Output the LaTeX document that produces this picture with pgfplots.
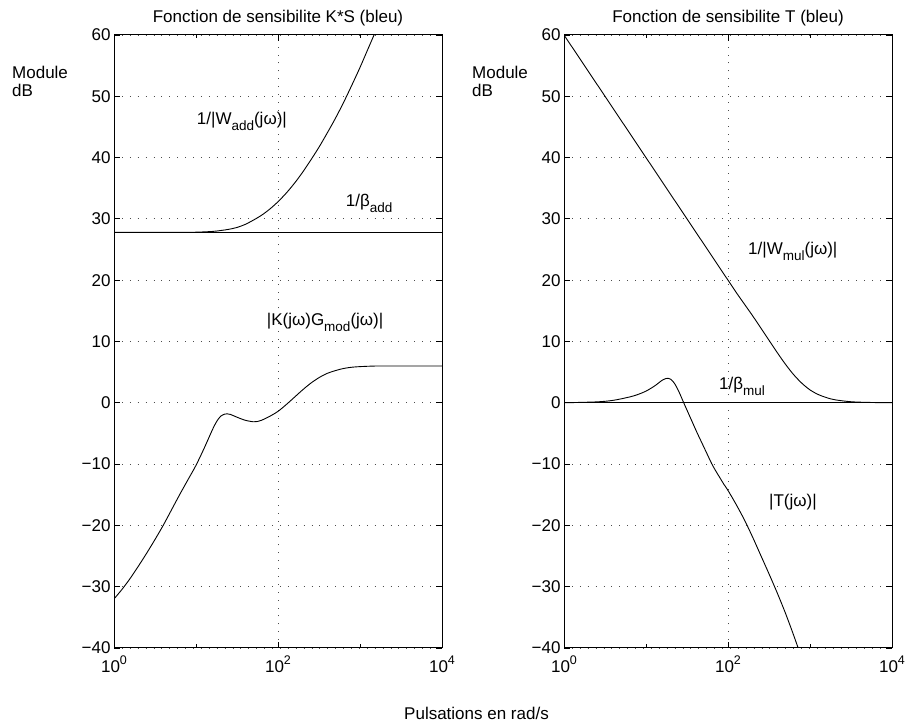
\documentclass[border=0pt]{standalone}
\usepackage{pgfplots}
\pgfplotsset{compat=1.18}
\usepackage{fontspec}
\setmainfont{Liberation Sans}
\newcommand{\fs}{\fontsize{17}{20}\selectfont}
\newcommand{\sub}[1]{\raisebox{-6pt}{\fontsize{13.5}{14}\selectfont #1}}
\newcommand{\sps}[1]{\raisebox{8pt}{\fontsize{12.5}{13}\selectfont #1}}
\pgfplotsset{
  panel/.style={
    scale only axis, width=328pt, height=613pt,
    xmin=1, xmax=10000, ymin=-40, ymax=60,
    xtick={1,100,10000}, xticklabels={10\sps{0},10\sps{2},10\sps{4}},
    minor xtick={10,1000},
    ytick={-40,-30,...,60}, yticklabels={−40,−30,−20,−10,0,10,20,30,40,50,60},
    tick align=inside, tick pos=both, xticklabel pos=lower, yticklabel pos=left,
    major tick length=6pt, minor tick length=3.5pt,
    ymajorgrids, xmajorgrids,
    major grid style={black!70, line width=0.8pt, dash pattern=on 0.9pt off 7pt},
    axis line style={line width=1pt},
    tick style={black, line width=0.8pt},
    tick label style={font=\fs},
    xticklabel style={yshift=-4pt},
    anchor=south west,
  },
  cv/.style={black, line width=0.9pt, mark=none},
}
\begin{document}
\begin{tikzpicture}
\fill[white, use as bounding box] (0,0) rectangle (906pt,727pt);
% ---------------- left panel ----------------
\begin{axis}[xmode=log, panel, at={(114pt,79pt)}]
% 1/beta_add
\addplot[cv] coordinates {(1,27.8) (10000,27.8)};
% 1/|W_add|
\addplot[cv, smooth] coordinates {
(1,27.8) (3.162,27.8) (6.310,27.81) (10,27.83) (15.85,27.95) (19.95,28.1)
(25.12,28.3) (31.62,28.6) (39.81,29.1) (50.12,29.8) (63.10,30.6) (79.43,31.6)
(100,32.8) (125.9,34.2) (158.5,35.8) (199.5,37.6) (251.2,39.6) (316.2,41.7)
(398.1,44.0) (501.2,46.4) (631.0,49.0) (794.3,51.8) (1000,54.7) (1259,57.8)
(1585,60.9) (1995,64.1)};
% |K G_mod|
\addplot[cv, smooth] coordinates {
(1,-32.0) (1.259,-30.4) (1.585,-28.6) (1.995,-26.6) (2.512,-24.5) (3.162,-22.3)
(3.981,-20.0) (5.012,-17.5) (6.310,-15.0) (7.943,-12.6) (10,-10.2) (12.59,-7.4)
(15.85,-4.4) (17.78,-3.1) (19.95,-2.2) (22.39,-1.85) (23.99,-1.8) (26.30,-1.9)
(31.62,-2.35) (39.81,-2.85) (50.12,-3.1) (56.23,-3.05) (63.10,-2.85) (79.43,-2.2)
(100,-1.4) (125.9,-0.3) (158.5,0.9) (199.5,2.1) (251.2,3.2) (316.2,4.1)
(398.1,4.8) (501.2,5.25) (631.0,5.6) (794.3,5.8) (1000,5.9) (1585,6.0)
(3162,6.0) (10000,6.0)};
\node[anchor=base west, font=\fs, inner sep=0pt] at (axis cs:10.2,45.4) {1/|W\sub{add}(jω)|};
\node[anchor=base west, font=\fs, inner sep=0pt] at (axis cs:668,32.1) {1/β\sub{add}};
\node[anchor=base west, font=\fs, inner sep=0pt] at (axis cs:72.8,12.6) {|K(jω)G\sub{mod}(jω)|};
\end{axis}
% ---------------- right panel ----------------
\begin{axis}[xmode=log, panel, at={(564pt,79pt)}]
% 1/beta_mul
\addplot[cv] coordinates {(1,0) (10000,0)};
% 1/|W_mul|
\addplot[cv, smooth] coordinates {
(1,60) (10,40) (100,20.0) (125.9,18.0) (158.5,16.1) (199.5,14.2) (251.2,12.2)
(316.2,10.2) (398.1,8.2) (501.2,6.3) (631.0,4.6) (794.3,3.2) (1000,2.1)
(1259,1.35) (1585,0.85) (1995,0.5) (3162,0.17) (5623,0.05) (10000,0)};
% |T|
\addplot[cv, smooth] coordinates {
(1,0) (2.512,0.15) (3.981,0.4) (6.310,0.95) (7.943,1.35) (10,1.9) (12.59,2.7)
(14.13,3.2) (15.85,3.7) (17.38,3.95) (18.62,4.0) (19.95,3.85) (21.88,3.3)
(23.99,2.4) (26.30,1.25) (28.84,0) (31.62,-1.2) (36.31,-3.0) (41.69,-4.8)
(47.86,-6.5) (54.95,-8.2) (63.10,-9.9) (70.79,-11.1) (79.43,-12.2)
(89.13,-13.3) (100,-14.3) (125.9,-16.6) (158.5,-19.1) (199.5,-21.9)
(251.2,-24.9) (316.2,-27.9) (398.1,-31.0) (501.2,-34.3) (631.0,-37.9)
(794.3,-41.7) (1000,-45.5)};
\node[anchor=base west, font=\fs, inner sep=0pt] at (axis cs:175.4,24.2) {1/|W\sub{mul}(jω)|};
\node[anchor=base west, font=\fs, inner sep=0pt] at (axis cs:77.6,2.2) {1/β\sub{mul}};
\node[anchor=base west, font=\fs, inner sep=0pt] at (axis cs:316,-16.9) {|T(jω)|};
\end{axis}
% ---------------- texts ----------------
\node[anchor=base, font=\fs] at (278pt,704pt) {Fonction de sensibilite K*S (bleu)};
\node[anchor=base, font=\fs] at (728pt,704pt) {Fonction de sensibilite T (bleu)};
\node[anchor=base west, font=\fs, inner sep=0pt] at (12pt,648pt) {Module};
\node[anchor=base west, font=\fs, inner sep=0pt] at (12pt,630pt) {dB};
\node[anchor=base west, font=\fs, inner sep=0pt] at (472pt,648pt) {Module};
\node[anchor=base west, font=\fs, inner sep=0pt] at (472pt,630pt) {dB};
\node[anchor=base, font=\fs] at (476.5pt,7pt) {Pulsations en rad/s};
\end{tikzpicture}
\end{document}
